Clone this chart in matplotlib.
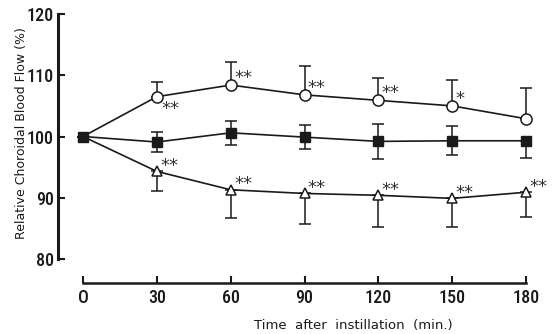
import matplotlib
matplotlib.use('Agg')
import matplotlib.pyplot as plt

# time after instillation (min.)
times = [0, 30, 60, 90, 120, 150, 180]

# open circles, error bar drawn upward only
circle_mean = [100, 106.5, 108.4, 106.8, 105.9, 105.0, 102.9]
circle_sd = [0, 2.4, 3.8, 4.7, 3.7, 4.3, 5.0]
circle_marks = ['', '**', '**', '**', '**', '*', '']

# filled squares, error bar both ways
square_mean = [100, 99.1, 100.6, 99.9, 99.2, 99.3, 99.3]
square_sd_up = [0, 1.7, 2.0, 2.0, 2.8, 2.4, 0]
square_sd_down = [0, 1.7, 2.0, 2.0, 2.8, 2.4, 2.8]

# open triangles, error bar drawn downward only
tri_mean = [100, 94.3, 91.3, 90.7, 90.4, 89.9, 90.9]
tri_sd = [0, 3.2, 4.6, 5.0, 5.1, 4.6, 4.0]
tri_marks = ['', '**', '**', '**', '**', '**', '**']

yticks = [80, 90, 100, 110, 120]
xticks = [0, 30, 60, 90, 120, 150, 180]
xticklabels = ['O', '30', '60', '90', '120', '150', '180']

num_font = ['Roboto Condensed', 'DejaVu Sans']
ink = '#1a1a1a'

fig = plt.figure(figsize=(5.53, 3.34), dpi=100)
ax = fig.add_axes([83 / 553, 1 - 283 / 334, 443 / 553, 269 / 334])
ax.set_xlim(0, 180)
ax.set_ylim(120 - 269 / 6.125, 120)

common = dict(color=ink, lw=1.2, elinewidth=1.1, capsize=4, capthick=1.1,
              clip_on=False)
ax.errorbar(times, circle_mean, yerr=[[0] * 7, circle_sd], marker='o', ms=8,
            mfc='white', mec=ink, mew=1.1, markevery=list(range(1, 7)),
            zorder=3, **common)
ax.errorbar(times, tri_mean, yerr=[tri_sd, [0] * 7], marker='^', ms=7,
            mfc='white', mec=ink, mew=1.1, markevery=list(range(1, 7)),
            zorder=3, **common)
ax.errorbar(times, square_mean, yerr=[square_sd_down, square_sd_up], marker='s',
            ms=7, mfc=ink, mec=ink, zorder=4, **common)

# significance marks
star_kw = dict(fontsize=13, color='#333333', ha='left', va='center')
for t, m, s in zip(times, circle_mean, circle_marks):
    if not s:
        continue
    if t == 30:
        ax.text(t + 2, m - 2.0, s, **star_kw)
    else:
        ax.text(t + 1.4, m + 1.2, s, **star_kw)
for t, m, s in zip(times, tri_mean, tri_marks):
    if s:
        ax.text(t + 1.4, m + 0.9, s, **star_kw)

for side in ['top', 'right']:
    ax.spines[side].set_visible(False)
ax.spines['left'].set_position(('data', -10.2))
ax.spines['left'].set_bounds(80, 120)
ax.spines['left'].set_linewidth(2.2)
ax.spines['bottom'].set_linewidth(1.8)
ax.spines['left'].set_color(ink)
ax.spines['bottom'].set_color(ink)

ax.set_yticks(yticks)
ax.set_xticks(xticks)
ax.set_xticklabels(xticklabels)
ax.tick_params(axis='y', direction='in', length=5, width=1.5, color=ink, pad=3,
               labelsize=13, labelcolor=ink)
ax.tick_params(axis='x', direction='in', length=5, width=1.5, color=ink, pad=4,
               labelsize=13, labelcolor=ink)
for lab in ax.get_xticklabels() + ax.get_yticklabels():
    lab.set_family(num_font)
    lab.set_weight('medium')

fig.text(22 / 553, 1 - 133 / 334, 'Relative Choroidal Blood Flow (%)', rotation=90,
         ha='center', va='center', fontsize=9, color=ink)
fig.text(353 / 553, 1 - 325 / 334, 'Time  after  instillation  (min.)',
         ha='center', va='center', fontsize=9.5, color=ink)

fig.savefig('out.png', dpi=100)
